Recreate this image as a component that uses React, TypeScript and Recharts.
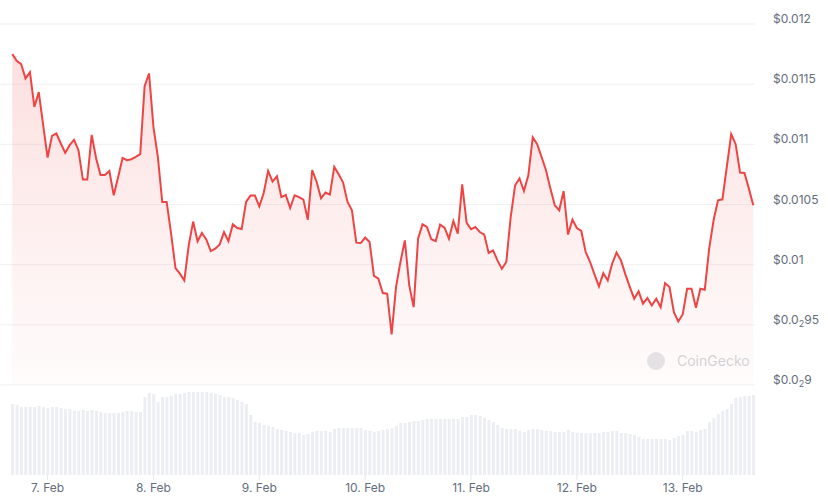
import React from "react";
import {
  AreaChart,
  Area,
  BarChart,
  Bar,
  XAxis,
  YAxis,
  CartesianGrid,
} from "recharts";

// hourly samples, first one is 6 Feb 16:00
const prices = [
  0.01175, 0.011694, 0.011667, 0.011548, 0.0116, 0.011311, 0.011434, 0.011159,
  0.01089, 0.01107, 0.01109, 0.011007, 0.010929, 0.010993, 0.011037, 0.010951,
  0.010707, 0.010707, 0.011078, 0.010884, 0.010746, 0.010746, 0.010779, 0.010577,
  0.010729, 0.010887, 0.010868, 0.010876, 0.010895, 0.010918, 0.011483, 0.011589,
  0.011145, 0.010895, 0.010521, 0.010521, 0.010258, 0.009972, 0.009925, 0.009869,
  0.010161, 0.010358, 0.010194, 0.010263, 0.010208, 0.010113, 0.010133, 0.010166,
  0.010271, 0.010196, 0.010335, 0.010305, 0.010296, 0.010521, 0.010574, 0.010574,
  0.010485, 0.010596, 0.010779, 0.010691, 0.010735, 0.010562, 0.010579, 0.010471,
  0.010577, 0.010562, 0.010541, 0.010374, 0.010785, 0.010687, 0.010552, 0.010599,
  0.010582, 0.010812, 0.010751, 0.010682, 0.010521, 0.010452, 0.010183, 0.01018,
  0.010225, 0.010188, 0.009907, 0.009884, 0.009764, 0.009759, 0.00942, 0.009814,
  0.010022, 0.010202, 0.009828, 0.009647, 0.010216, 0.010335, 0.010313, 0.010211,
  0.010196, 0.010333, 0.010308, 0.010216, 0.010363, 0.010258, 0.010668, 0.010349,
  0.010294, 0.010313, 0.010271, 0.01025, 0.010097, 0.010119, 0.010036, 0.009965,
  0.010022, 0.010396, 0.01066, 0.010716, 0.010612, 0.010743, 0.011057, 0.011001,
  0.010895, 0.010785, 0.010632, 0.010493, 0.010452, 0.010612, 0.01025, 0.010374,
  0.010305, 0.01028, 0.010105, 0.010022, 0.009919, 0.009819, 0.00993, 0.009869,
  0.010008, 0.0101, 0.010036, 0.009919, 0.009815, 0.009717, 0.009778, 0.009676,
  0.009722, 0.009661, 0.009717, 0.009647, 0.009847, 0.009814, 0.009606, 0.009528,
  0.009586, 0.0098, 0.0098, 0.009642, 0.0098, 0.009792, 0.010133, 0.010369,
  0.010535, 0.010543, 0.010812, 0.011084, 0.011001, 0.010765, 0.010762, 0.010632,
  0.010493,
];

// hourly volume, relative units
const volumes = [
  71, 70, 68, 68, 68, 68, 69, 68, 67, 68, 68, 67, 66, 66, 64, 64, 65, 64, 65, 64,
  63, 62, 62, 62, 62, 63, 64, 64, 63, 63, 78, 82, 81, 73, 78, 78, 79, 81, 81, 82,
  83, 83, 83, 83, 83, 82, 81, 80, 78, 78, 77, 75, 73, 71, 60, 53, 52, 50, 49, 48,
  46, 45, 44, 43, 42, 42, 40, 41, 43, 44, 44, 44, 43, 46, 47, 47, 47, 47, 47, 47,
  45, 44, 43, 44, 45, 46, 47, 49, 52, 52, 53, 54, 54, 55, 56, 56, 56, 56, 56, 56,
  56, 56, 58, 58, 60, 60, 59, 57, 55, 53, 50, 47, 46, 46, 46, 44, 43, 45, 46, 46,
  45, 44, 44, 43, 43, 43, 45, 43, 42, 42, 42, 42, 42, 42, 43, 43, 44, 44, 42, 42,
  41, 40, 38, 36, 36, 36, 36, 36, 36, 35, 37, 39, 40, 44, 44, 43, 45, 46, 53, 57,
  61, 64, 66, 71, 77, 78, 79, 79, 80,
];

const priceTicks = [0.009, 0.0095, 0.01, 0.0105, 0.011, 0.0115, 0.012];
const priceLabels = ["$0.0|2|9", "$0.0|2|95", "$0.01", "$0.0105", "$0.011", "$0.0115", "$0.012"];

const dayTicks = [8, 32, 56, 80, 104, 128, 152];
const dayLabels = ["7. Feb", "8. Feb", "9. Feb", "10. Feb", "11. Feb", "12. Feb", "13. Feb"];

const data = prices.map((p, i) => ({ t: i, price: p, volume: volumes[i] }));

const W = 828;
const AXIS_W = 73;
const X_DOMAIN: [number, number] = [-2.79, 168.39];
const FONT = "Inter, 'Noto Sans', sans-serif";
const TEXT = "#636d7d";

const PriceTick = (props: any) => {
  const { x, y, payload } = props;
  const idx = priceTicks.indexOf(payload.value);
  const label = priceLabels[idx] ?? String(payload.value);
  const parts = label.split("|");
  return (
    <text x={x + 10} y={y - 5} dy={4} fill={TEXT} fontSize={12} fontFamily={FONT} textAnchor="start">
      {parts.length === 3 ? (
        <>
          <tspan>{parts[0]}</tspan>
          <tspan fontSize={9} dy={3}>{parts[1]}</tspan>
          <tspan dy={-3}>{parts[2]}</tspan>
        </>
      ) : (
        label
      )}
    </text>
  );
};

const DayTick = (props: any) => {
  const { x, y, payload } = props;
  const label = dayLabels[dayTicks.indexOf(payload.value)];
  return (
    <text x={x} y={y} dy={10} fill={TEXT} fontSize={12} fontFamily={FONT} textAnchor="middle">
      {label}
    </text>
  );
};

export default function App() {
  return (
    <div style={{ position: "absolute", left: 0, top: 0, width: W, height: 502, background: "#fff" }}>
      <div style={{ position: "absolute", left: 0, top: 0 }}>
        <AreaChart width={W} height={400} data={data} margin={{ top: 24, right: 0, bottom: 15, left: 0 }}>
          <defs>
            <linearGradient id="priceFill" x1="0" y1="0" x2="0" y2="1">
              <stop offset="0%" stopColor="#ef4444" stopOpacity={0.28} />
              <stop offset="50%" stopColor="#ef4444" stopOpacity={0.15} />
              <stop offset="100%" stopColor="#ef4444" stopOpacity={0.03} />
            </linearGradient>
          </defs>
          <CartesianGrid horizontal vertical={false} stroke="#f0f1f4" />
          <XAxis dataKey="t" type="number" domain={X_DOMAIN} hide />
          <YAxis
            orientation="right"
            width={AXIS_W}
            domain={[0.009, 0.012]}
            ticks={priceTicks}
            axisLine={false}
            tickLine={false}
            tick={<PriceTick />}
            interval={0}
          />
          <Area
            type="linear"
            dataKey="price"
            stroke="#ef4444"
            strokeWidth={2}
            fill="url(#priceFill)"
            baseValue={0.009}
            isAnimationActive={false}
            dot={false}
            activeDot={false}
          />
          <g>
            <circle cx={656} cy={361} r={9} fill="#e4e6ea" />
            <text x={677} y={361} dy={5} fontSize={14} fontFamily={FONT} fill="#d3d6db">
              CoinGecko
            </text>
          </g>
        </AreaChart>
      </div>
      <div style={{ position: "absolute", left: 0, top: 380 }}>
        <BarChart width={W} height={122} data={data} margin={{ top: 10, right: AXIS_W, bottom: 0, left: 0 }} barCategoryGap={0}>
          <XAxis
            dataKey="t"
            type="number"
            domain={X_DOMAIN}
            ticks={dayTicks}
            interval={0}
            height={27}
            axisLine={false}
            tickLine={{ stroke: "#e6e8ec" }}
            tickSize={5}
            tick={<DayTick />}
          />
          <YAxis domain={[0, 85]} hide />
          <Bar dataKey="volume" fill="#eceef2" barSize={3} isAnimationActive={false} />
        </BarChart>
      </div>
    </div>
  );
}
